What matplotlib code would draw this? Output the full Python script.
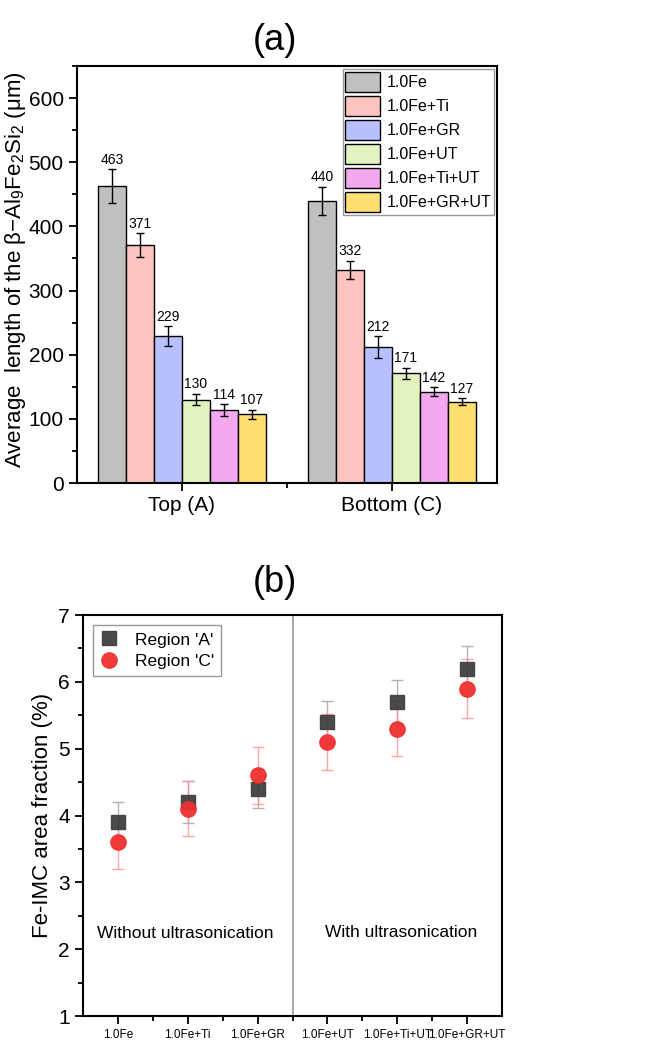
import numpy as np
import matplotlib
matplotlib.use("Agg")
import matplotlib.pyplot as plt
import matplotlib.ticker as tck

plt.rcParams['font.family'] = ['Liberation Sans', 'DejaVu Sans']
plt.rcParams['mathtext.fontset'] = 'custom'
plt.rcParams['mathtext.rm'] = 'Liberation Sans'
plt.rcParams['mathtext.it'] = 'Liberation Sans'

# panel (a) data
groups = ["Top (A)", "Bottom (C)"]
alloys = ["1.0Fe", "1.0Fe+Ti", "1.0Fe+GR", "1.0Fe+UT", "1.0Fe+Ti+UT", "1.0Fe+GR+UT"]
top_len = [463, 371, 229, 130, 114, 107]
top_err = [26, 18, 15, 9, 9, 7]
bot_len = [440, 332, 212, 171, 142, 127]
bot_err = [22, 14, 17, 9, 7, 5]
bar_colors = ["#c0c0c0", "#ffc4c0", "#b8c0ff", "#e2f3c0", "#f3a8f0", "#ffdf6f"]

# panel (b) data
reg_a = [3.9, 4.2, 4.4, 5.4, 5.7, 6.2]
reg_a_err = [0.30, 0.31, 0.29, 0.32, 0.33, 0.34]
reg_c = [3.6, 4.1, 4.6, 5.1, 5.3, 5.9]
reg_c_err = [0.40, 0.41, 0.42, 0.42, 0.41, 0.44]

fig = plt.figure(figsize=(6.46, 10.63), dpi=100)

# ---------- (a) ----------
ax1 = fig.add_axes([0.119, 0.5456, 0.650, 0.3923])
w = 0.1333
gx = np.array([1, 2])
for i in range(len(alloys)):
    xs = gx - 2.5*w + i*w
    vals = [top_len[i], bot_len[i]]
    errs = [top_err[i], bot_err[i]]
    ax1.bar(xs, vals, width=w, color=bar_colors[i], edgecolor='black', linewidth=1.0,
            label=alloys[i], zorder=2)
    ax1.errorbar(xs, vals, yerr=errs, fmt='none', ecolor='black', elinewidth=1.0,
                 capsize=3, capthick=1.0, zorder=3)
    for x, v, e in zip(xs, vals, errs):
        ax1.text(x, v + e + 4, str(v), ha='center', va='bottom', fontsize=10)

ax1.set_xlim(0.5, 2.5)
ax1.set_ylim(0, 650)
ax1.set_xticks(gx)
ax1.set_xticklabels(groups, fontsize=15)
ax1.xaxis.set_minor_locator(tck.FixedLocator([1.5]))
ax1.yaxis.set_major_locator(tck.MultipleLocator(100))
ax1.yaxis.set_minor_locator(tck.MultipleLocator(50))
ax1.tick_params(axis='both', which='major', direction='out', length=6, width=1.3, labelsize=15)
ax1.tick_params(axis='both', which='minor', direction='out', length=3.5, width=1.3)
ax1.set_ylabel(r"Average  length of the $\mathrm{\beta}$$-$Al$_9$Fe$_2$Si$_2$ ($\mathrm{\mu}$m)",
               fontsize=16, va='center')
ax1.yaxis.set_label_coords(-0.145, 0.511)
for s in ax1.spines.values():
    s.set_linewidth(1.5)
ax1.legend(loc='upper right', fontsize=11.5, handlelength=2.2, handleheight=1.6,
           labelspacing=0.22, handletextpad=0.4, borderpad=0.15, borderaxespad=0.2,
           fancybox=False, edgecolor='#999999', framealpha=1)
fig.text(0.426, 0.962, "(a)", ha='center', va='center', fontsize=26)

# ---------- (b) ----------
ax2 = fig.add_axes([0.1285, 0.0442, 0.6486, 0.3772])
xc = np.arange(1, 7)
ax2.errorbar(xc, reg_a, yerr=reg_a_err, fmt='none', ecolor='#a0a0a0', elinewidth=1.0,
             capsize=4, capthick=1.0, alpha=0.8, zorder=2)
ax2.errorbar(xc, reg_c, yerr=reg_c_err, fmt='none', ecolor='#ff9090', elinewidth=1.0,
             capsize=4, capthick=1.0, alpha=0.8, zorder=2)
ax2.plot(xc, reg_a, 's', color='#404040', markersize=10, alpha=0.95, linestyle='none',
         label="Region 'A'", zorder=3)
ax2.plot(xc, reg_c, 'o', color='#f03030', markersize=11, alpha=0.95, linestyle='none',
         label="Region 'C'", zorder=4)
ax2.axvline(3.5, color='#999999', linewidth=1.2, zorder=1)
ax2.set_xlim(0.5, 6.5)
ax2.set_ylim(1, 7)
ax2.set_xticks(xc)
ax2.set_xticklabels(alloys, fontsize=8.5)
ax2.xaxis.set_minor_locator(tck.FixedLocator(np.arange(1.5, 6.5, 1.0)))
ax2.yaxis.set_major_locator(tck.MultipleLocator(1))
ax2.yaxis.set_minor_locator(tck.MultipleLocator(0.5))
ax2.tick_params(axis='both', which='major', direction='out', length=6, width=1.3)
ax2.tick_params(axis='y', which='major', labelsize=15)
ax2.tick_params(axis='both', which='minor', direction='out', length=3.5, width=1.3)
ax2.set_ylabel("Fe-IMC area fraction (%)", fontsize=16)
for s in ax2.spines.values():
    s.set_linewidth(1.5)
ax2.text(1.96, 2.24, "Without ultrasonication", ha='center', va='center', fontsize=12.5)
ax2.text(5.06, 2.25, "With ultrasonication", ha='center', va='center', fontsize=12.5)
ax2.legend(loc='upper left', fontsize=12.5, handlelength=1.0, handletextpad=1.0,
           labelspacing=0.35, borderpad=0.4, borderaxespad=0.6, fancybox=False,
           edgecolor='#999999', framealpha=1)
fig.text(0.426, 0.4516, "(b)", ha='center', va='center', fontsize=26)

fig.savefig("out.png", dpi=100)
